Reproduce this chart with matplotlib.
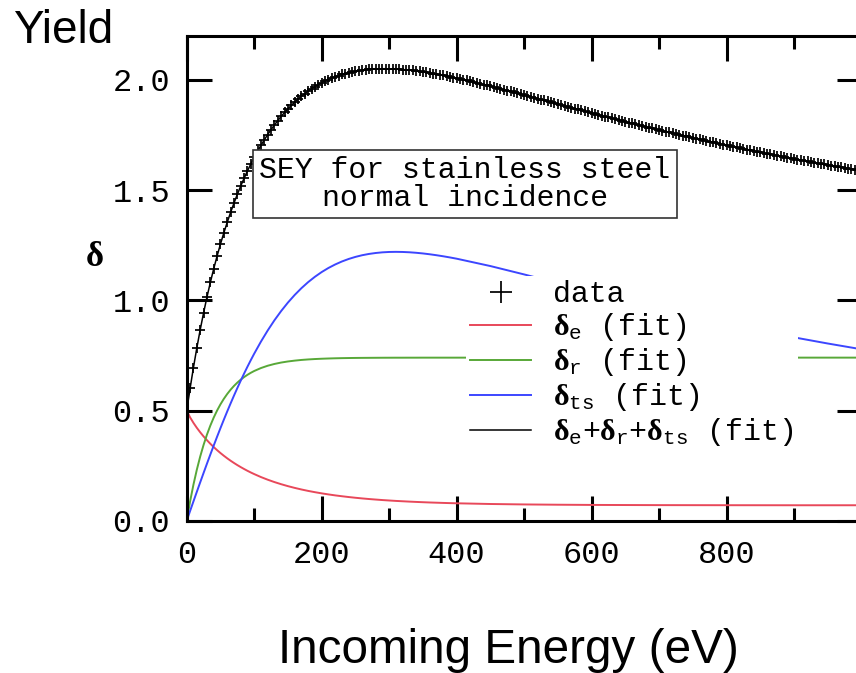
import matplotlib
matplotlib.use("Agg")
import matplotlib.pyplot as plt
from matplotlib.ticker import MultipleLocator, FixedLocator, FixedFormatter
from matplotlib.font_manager import FontProperties

plt.rcParams["mathtext.fontset"] = "custom"
plt.rcParams["mathtext.rm"] = "Liberation Serif"
plt.rcParams["mathtext.bf"] = "Liberation Serif:bold"
plt.rcParams["mathtext.it"] = "Liberation Serif:italic"
plt.rcParams["mathtext.tt"] = "Liberation Mono"

MONO = "Liberation Mono"
SANS = "Liberation Sans"

# Incoming energies (eV) at which the fitted components are tabulated
energy_fit = [0, 5, 10, 15, 20, 25, 30, 35, 40, 45, 50, 55, 60, 65, 70, 75, 80, 85, 90, 95,
              100, 110, 120, 130, 140, 150, 160, 170, 180, 190, 200, 210, 220, 230, 240,
              250, 260, 270, 280, 290, 300, 310, 320, 330, 340, 350, 360, 370, 380, 390,
              400, 450, 500, 550, 600, 650, 700, 750, 800, 850, 900, 950, 1000]

# elastic backscattered component
delta_e = [0.5000, 0.4690, 0.4439, 0.4215, 0.4012, 0.3825, 0.3653, 0.3492, 0.3342, 0.3202,
           0.3071, 0.2948, 0.2832, 0.2723, 0.2621, 0.2524, 0.2433, 0.2347, 0.2265, 0.2188,
           0.2116, 0.1981, 0.1861, 0.1753, 0.1656, 0.1568, 0.1489, 0.1417, 0.1352, 0.1294,
           0.1241, 0.1193, 0.1149, 0.1110, 0.1074, 0.1041, 0.1011, 0.0984, 0.0960, 0.0937,
           0.0917, 0.0898, 0.0882, 0.0866, 0.0852, 0.0839, 0.0827, 0.0817, 0.0807, 0.0798,
           0.0790, 0.0758, 0.0738, 0.0725, 0.0716, 0.0711, 0.0707, 0.0705, 0.0703, 0.0702,
           0.0701, 0.0701, 0.0701]

# rediffused component
delta_r = [0.0000, 0.0870, 0.1637, 0.2314, 0.2912, 0.3439, 0.3905, 0.4315, 0.4678, 0.4998,
           0.5280, 0.5529, 0.5749, 0.5943, 0.6114, 0.6265, 0.6399, 0.6516, 0.6620, 0.6712,
           0.6793, 0.6927, 0.7032, 0.7113, 0.7177, 0.7226, 0.7264, 0.7295, 0.7318, 0.7336,
           0.7350, 0.7361, 0.7370, 0.7377, 0.7382, 0.7386, 0.7389, 0.7391, 0.7393, 0.7395,
           0.7396, 0.7397, 0.7397, 0.7398, 0.7398, 0.7399, 0.7399, 0.7399, 0.7399, 0.7399,
           0.7399, 0.7400, 0.7400, 0.7400, 0.7400, 0.7400, 0.7400, 0.7400, 0.7400, 0.7400,
           0.7400, 0.7400, 0.7400]

# true secondary component
delta_ts = [0.0000, 0.0439, 0.0876, 0.1310, 0.1740, 0.2166, 0.2587, 0.3001, 0.3408, 0.3808,
            0.4199, 0.4582, 0.4955, 0.5319, 0.5673, 0.6017, 0.6351, 0.6674, 0.6986, 0.7287,
            0.7578, 0.8126, 0.8631, 0.9095, 0.9516, 0.9899, 1.0243, 1.0552, 1.0827, 1.1069,
            1.1283, 1.1468, 1.1627, 1.1763, 1.1877, 1.1971, 1.2047, 1.2105, 1.2148, 1.2178,
            1.2195, 1.2200, 1.2195, 1.2181, 1.2158, 1.2128, 1.2091, 1.2048, 1.2000, 1.1947,
            1.1890, 1.1556, 1.1176, 1.0779, 1.0381, 0.9993, 0.9620, 0.9267, 0.8932, 0.8616,
            0.8320, 0.8041, 0.7779]

# measured total yield, every 5 eV from 0 to 1000 eV
energy_data = list(range(0, 1001, 5))
yield_data = [
    0.500, 0.600, 0.695, 0.784, 0.866, 0.943, 1.014, 1.081, 1.143, 1.201,
    1.255, 1.306, 1.354, 1.399, 1.441, 1.481, 1.518, 1.554, 1.587, 1.619,
    1.649, 1.677, 1.703, 1.729, 1.752, 1.775, 1.796, 1.816, 1.835, 1.853,
    1.869, 1.885, 1.900, 1.913, 1.926, 1.938, 1.950, 1.960, 1.970, 1.979,
    1.987, 1.995, 2.002, 2.009, 2.015, 2.020, 2.025, 2.029, 2.033, 2.037,
    2.040, 2.042, 2.045, 2.047, 2.048, 2.049, 2.050, 2.051, 2.051, 2.051,
    2.051, 2.050, 2.050, 2.049, 2.047, 2.046, 2.044, 2.043, 2.041, 2.039,
    2.037, 2.034, 2.032, 2.029, 2.026, 2.024, 2.021, 2.018, 2.014, 2.011,
    2.008, 2.005, 2.001, 1.998, 1.994, 1.990, 1.987, 1.983, 1.979, 1.975,
    1.971, 1.968, 1.964, 1.960, 1.956, 1.952, 1.948, 1.944, 1.940, 1.936,
    1.931, 1.927, 1.923, 1.919, 1.915, 1.911, 1.907, 1.903, 1.899, 1.894,
    1.890, 1.886, 1.882, 1.878, 1.874, 1.870, 1.866, 1.862, 1.858, 1.854,
    1.850, 1.846, 1.842, 1.838, 1.834, 1.830, 1.826, 1.822, 1.818, 1.814,
    1.810, 1.807, 1.803, 1.799, 1.795, 1.791, 1.788, 1.784, 1.780, 1.777,
    1.773, 1.769, 1.766, 1.762, 1.758, 1.755, 1.751, 1.748, 1.744, 1.741,
    1.737, 1.734, 1.730, 1.727, 1.723, 1.720, 1.717, 1.713, 1.710, 1.707,
    1.703, 1.700, 1.697, 1.694, 1.691, 1.687, 1.684, 1.681, 1.678, 1.675,
    1.672, 1.669, 1.666, 1.663, 1.660, 1.657, 1.654, 1.651, 1.648, 1.645,
    1.642, 1.639, 1.636, 1.633, 1.631, 1.628, 1.625, 1.622, 1.620, 1.617,
    1.614, 1.611, 1.609, 1.606, 1.604, 1.601, 1.598, 1.596, 1.593, 1.591,
    1.588,
]

x_ticks = [0, 200, 400, 600, 800, 1000]
x_tick_labels = ["0", "200", "400", "600", "800", ""]
y_ticks = [0.0, 0.5, 1.0, 1.5, 2.0]
y_tick_labels = ["0.0", "0.5", "1.0", "1.5", "2.0"]

total_fit = [a + b + c for a, b, c in zip(delta_e, delta_r, delta_ts)]

RED = "#e8485a"
GREEN = "#58a838"
BLUE = "#3c46ff"

fig = plt.figure(figsize=(8.56, 6.73), dpi=100)
ax = fig.add_axes([0.21811, 0.22630, 0.78832, 0.72036])

h_tot, = ax.plot(energy_fit, total_fit, color="black", lw=1.1, zorder=2)
h_data, = ax.plot(energy_data, yield_data, ls="none", marker="+", ms=7, mew=1.25,
                  color="black", zorder=3)
h_e, = ax.plot(energy_fit, delta_e, color=RED, lw=1.4, zorder=2)
h_r, = ax.plot(energy_fit, delta_r, color=GREEN, lw=1.4, zorder=2)
h_ts, = ax.plot(energy_fit, delta_ts, color=BLUE, lw=1.4, zorder=2)

ax.set_xlim(0, 1000)
ax.set_ylim(0, 2.2)
ax.xaxis.set_major_locator(FixedLocator(x_ticks))
ax.xaxis.set_major_formatter(FixedFormatter(x_tick_labels))
ax.xaxis.set_minor_locator(MultipleLocator(100))
ax.yaxis.set_major_locator(FixedLocator(y_ticks))
ax.yaxis.set_major_formatter(FixedFormatter(y_tick_labels))

for sp in ax.spines.values():
    sp.set_linewidth(2.2)
ax.tick_params(which="both", direction="in", top=True, right=True, width=2.2,
               labelsize=23, labelfontfamily=MONO, colors="black")
ax.tick_params(which="major", length=18)
ax.tick_params(which="minor", length=9.5)
ax.tick_params(axis="x", pad=14)
ax.tick_params(axis="y", pad=12)

ax.text(412, 1.527, "SEY for stainless steel\nnormal incidence", ha="center", va="center",
        family=MONO, fontsize=21.5, linespacing=1.0, zorder=6,
        bbox=dict(boxstyle="square,pad=0.21", fc="white", ec="#333333", lw=1.2))

labels = [
    "data",
    r"$\mathbf{\delta}_{\mathtt{e}}$ (fit)",
    r"$\mathbf{\delta}_{\mathtt{r}}$ (fit)",
    r"$\mathbf{\delta}_{\mathtt{ts}}$ (fit)",
    r"$\mathbf{\delta}_{\mathtt{e}}$+$\mathbf{\delta}_{\mathtt{r}}$+$\mathbf{\delta}_{\mathtt{ts}}$ (fit)",
]
leg = ax.legend([h_data, h_e, h_r, h_ts, h_tot], labels, loc="upper left",
                bbox_to_anchor=(0.4139, 0.5047), borderaxespad=0, frameon=True,
                fancybox=False, framealpha=1, facecolor="white", edgecolor="none",
                borderpad=0.15, handlelength=2.04, handletextpad=0.74, labelspacing=0.1,
                markerscale=2.2, prop=FontProperties(family=MONO, size=21.5))
leg.set_zorder(5)

fig.text(94 / 856, 1 - 256 / 673, r"$\mathbf{\delta}$", fontsize=25, ha="center", va="center")
fig.text(13 / 856, 1 - 43 / 673, "Yield", family=SANS, fontsize=33, ha="left", va="baseline")
fig.text(508.6 / 856, 1 - 663 / 673, "Incoming Energy (eV)", family=SANS, fontsize=34.3,
         ha="center", va="baseline")

fig.savefig("out.png", dpi=100)
